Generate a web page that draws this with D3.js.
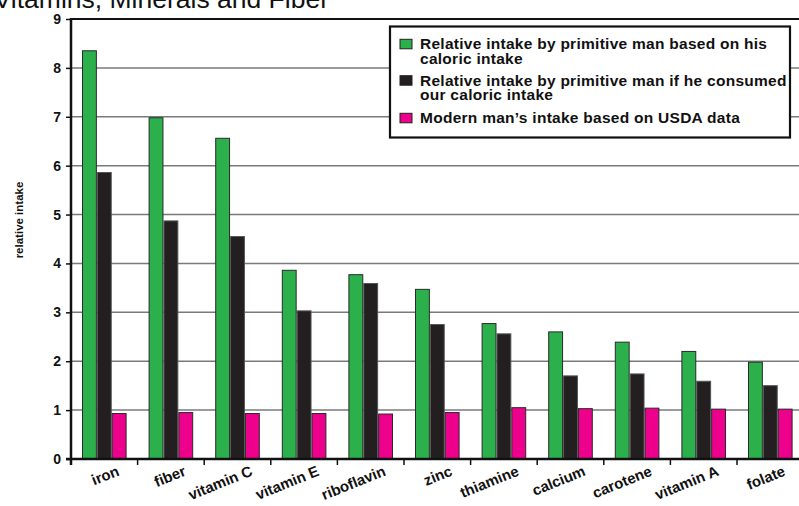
<!DOCTYPE html>
<html>
<head>
<meta charset="utf-8">
<script src="https://cdn.jsdelivr.net/npm/d3@7"></script>
<style>
  html, body { margin: 0; padding: 0; background: #fff; }
  svg { display: block; font-family: "Liberation Sans", Arial, Helvetica, sans-serif; }
</style>
</head>
<body>
<svg id="chart" width="799" height="506"></svg>
<script>
// Nutrients, in the order shown along the x axis
const categories = ["iron", "fiber", "vitamin C", "vitamin E", "riboflavin", "zinc",
                    "thiamine", "calcium", "carotene", "vitamin A", "folate"];

// Relative intake values per series
const primitiveOwnCalories = [8.35, 6.98, 6.56, 3.86, 3.77, 3.47, 2.77, 2.60, 2.39, 2.20, 1.98];
const primitiveOurCalories = [5.86, 4.87, 4.55, 3.03, 3.59, 2.75, 2.56, 1.70, 1.74, 1.59, 1.50];
const modernUSDA           = [0.93, 0.95, 0.93, 0.93, 0.92, 0.95, 1.05, 1.03, 1.04, 1.02, 1.02];

const seriesNames = [
  ["Relative intake by primitive man based on his", "caloric intake"],
  ["Relative intake by primitive man if he consumed", "our caloric intake"],
  ["Modern man\u2019s intake based on USDA data"]
];
const seriesColors = ["#2bb04b", "#231f20", "#ec008c"];
const seriesValues = [primitiveOwnCalories, primitiveOurCalories, modernUSDA];

const yTicks = [0, 1, 2, 3, 4, 5, 6, 7, 8, 9];
const titleText = "Vitamins, Minerals and Fiber";
const yLabel = "relative intake";

const svg = d3.select("#chart");
const plotLeft = 71, plotTop = 19, plotBottom = 459;
const bandW = 66.6;

const x = d3.scaleBand().domain(categories)
  .range([plotLeft, plotLeft + bandW * categories.length]).padding(0);
const xs = d3.scaleBand().domain(d3.range(3)).range([11, 55.6]).padding(0);
const y = d3.scaleLinear().domain([0, 9]).range([plotBottom, plotTop]);

// Title (runs off the top edge)
svg.append("text")
  .attr("x", 329).attr("y", 8)
  .attr("text-anchor", "end")
  .attr("font-size", 26.5)
  .attr("fill", "#111")
  .text(titleText);

// Horizontal gridlines
svg.append("g").selectAll("line")
  .data(yTicks.filter(d => d > 0 && d < 9))
  .join("line")
  .attr("x1", plotLeft).attr("x2", 799)
  .attr("y1", d => y(d)).attr("y2", d => y(d))
  .attr("stroke", "#7a7a7a").attr("stroke-width", 1.5);

// Bars
const groups = svg.append("g").selectAll("g")
  .data(categories)
  .join("g")
  .attr("transform", d => `translate(${x(d)},0)`);

groups.selectAll("rect")
  .data((c, i) => seriesValues.map((vals, s) => ({ s, v: vals[i] })))
  .join("rect")
  .attr("x", d => xs(d.s) + 0.5)
  .attr("width", xs.bandwidth() - 1)
  .attr("y", d => y(d.v))
  .attr("height", d => plotBottom - y(d.v))
  .attr("fill", d => seriesColors[d.s])
  .attr("stroke", d => d.s === 1 ? "#555" : "#2a2a2a")
  .attr("stroke-width", 1);

// Top frame line
svg.append("line")
  .attr("x1", plotLeft).attr("x2", 799).attr("y1", y(9)).attr("y2", y(9))
  .attr("stroke", "#111").attr("stroke-width", 2.2);

// Y axis
const yAxis = svg.append("g")
  .attr("transform", `translate(${plotLeft},0)`)
  .call(d3.axisLeft(y).tickValues(yTicks).tickSize(5).tickPadding(5).tickFormat(d3.format("d")));
yAxis.select(".domain").attr("stroke", "#111").attr("stroke-width", 2.5)
  .attr("d", `M0,${plotTop - 1}V${plotBottom + 6}`);
yAxis.selectAll(".tick line").attr("stroke", "#111").attr("stroke-width", 1.5);
yAxis.selectAll(".tick text")
  .attr("font-size", 14).attr("font-weight", "bold").attr("fill", "#111")
  .attr("font-family", "'Liberation Sans', Arial, sans-serif");

// X axis line with ticks at category boundaries
svg.append("line")
  .attr("x1", plotLeft - 5).attr("x2", 799).attr("y1", plotBottom).attr("y2", plotBottom)
  .attr("stroke", "#111").attr("stroke-width", 2.5);
svg.append("g").selectAll("line")
  .data(categories.slice(1))
  .join("line")
  .attr("x1", d => x(d)).attr("x2", d => x(d))
  .attr("y1", plotBottom).attr("y2", plotBottom + 6)
  .attr("stroke", "#111").attr("stroke-width", 1.5);

// Slanted category labels
svg.append("g").selectAll("text")
  .data(categories)
  .join("text")
  .attr("transform", d => `translate(${x(d) + x.bandwidth() / 2 + 16},475) rotate(-22)`)
  .attr("text-anchor", "end")
  .attr("font-size", 15).attr("font-weight", "bold").attr("fill", "#111")
  .text(d => d);

// Y axis title
svg.append("text")
  .attr("transform", "translate(23,220) rotate(-90)")
  .attr("text-anchor", "middle")
  .attr("font-size", 11.5).attr("font-weight", "bold").attr("fill", "#111")
  .text(yLabel);

// Legend
const legend = svg.append("g");
legend.append("rect")
  .attr("x", 390).attr("y", 26.5).attr("width", 400).attr("height", 111)
  .attr("fill", "#fff").attr("stroke", "#111").attr("stroke-width", 2.2);

const legendRows = [49.3, 85.7, 123.3];
seriesNames.forEach((lines, i) => {
  const base = legendRows[i];
  legend.append("rect")
    .attr("x", 400).attr("y", base - 10).attr("width", 12).attr("height", 9.5)
    .attr("fill", seriesColors[i]).attr("stroke", "#222").attr("stroke-width", 1);
  const t = legend.append("text")
    .attr("x", 420).attr("y", base)
    .attr("font-size", 15.5).attr("font-weight", "bold")
    .attr("letter-spacing", 0.27).attr("fill", "#111");
  lines.forEach((ln, k) => {
    t.append("tspan").attr("x", 420).attr("y", base + k * 14.3).text(ln);
  });
});
</script>
</body>
</html>
